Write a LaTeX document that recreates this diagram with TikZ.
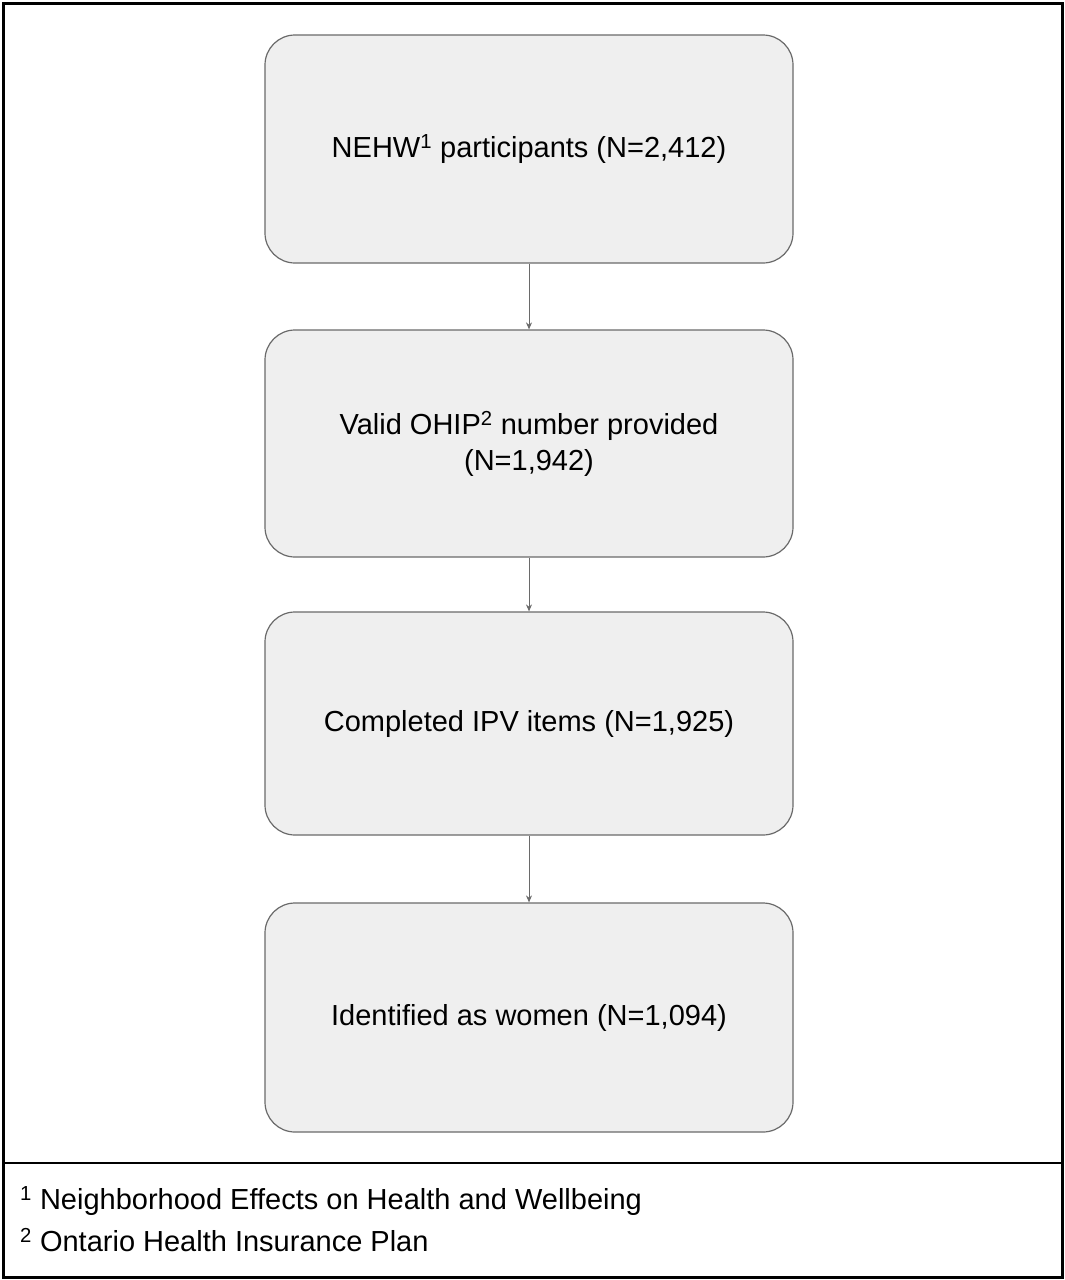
\documentclass[tikz,border=0pt]{standalone}
\usepackage{fontspec}
\setmainfont{Liberation Sans}
\usetikzlibrary{arrows.meta}
\definecolor{boxfill}{HTML}{EFEFEF}
\definecolor{boxline}{HTML}{6A6A6A}
\begin{document}
\begin{tikzpicture}[x=1pt,y=-1pt,
  box/.style={draw=boxline,line width=1.2pt,fill=boxfill,rounded corners=30pt,
    minimum width=528pt,align=center,font=\fontsize{29}{36}\selectfont,inner sep=0pt},
  arr/.style={draw=boxline,line width=1pt,-{Stealth[length=7pt,width=6pt]}},
  foot/.style={anchor=west,font=\fontsize{29}{34}\selectfont,inner sep=0pt}]
\useasboundingbox (0,0) rectangle (1065,1280);
\draw[line width=3pt] (3,3) rectangle (1062,1277);
\draw[line width=2.5pt] (3,1163) -- (1062,1163);
\node[box,minimum height=228pt] (b1) at (529,149) {NEHW\textsuperscript{1} participants (N=2,412)};
\node[box,minimum height=227pt] (b2) at (529,443.5) {Valid OHIP\textsuperscript{2} number provided\\(N=1,942)};
\node[box,minimum height=223pt] (b3) at (529,723.5) {Completed IPV items (N=1,925)};
\node[box,minimum height=229pt] (b4) at (529,1017.5) {Identified as women (N=1,094)};
\draw[arr] (b1) -- (b2);
\draw[arr] (b2) -- (b3);
\draw[arr] (b3) -- (b4);
\node[foot] (f1) at (20,1201) {\textsuperscript{1} Neighborhood Effects on Health and Wellbeing};
\node[foot] (f2) at (20,1240) {\textsuperscript{2} Ontario Health Insurance Plan};
\end{tikzpicture}
\end{document}
